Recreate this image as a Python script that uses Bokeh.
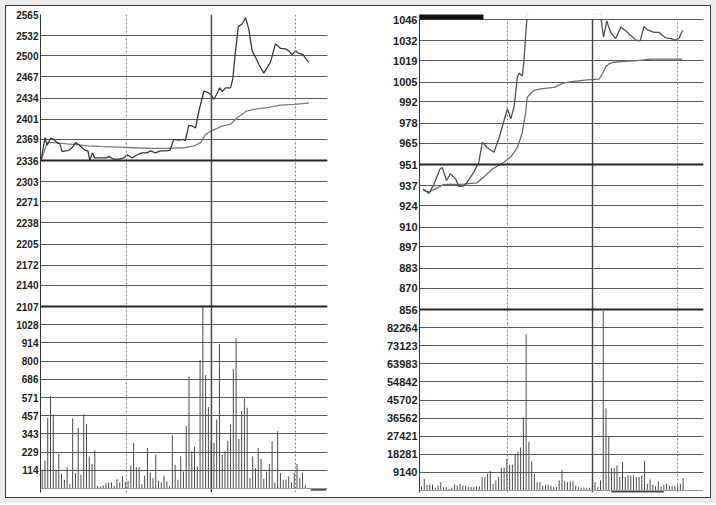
from bokeh.plotting import figure
from bokeh.models import Range1d, LinearAxis, FixedTicker, Grid, Span, BoxAnnotation
from bokeh.layouts import row, column
from bokeh.embed import file_html
from bokeh.resources import INLINE

# ---------------- data: left chart ----------------
L_PRICE_TICKS = [2107, 2140, 2172, 2205, 2238, 2271, 2303, 2336, 2369, 2401, 2434, 2467, 2500, 2532, 2565]
L_PREV_CLOSE = 2336
L_VOL_TICKS = [114, 229, 343, 457, 571, 686, 800, 914, 1028]
L_VOL_TOP = 1142.5

L_PRICE_X = [-0.4, 1.0, 1.8, 3.0, 4.2, 5.4, 6.4, 7.2, 8.4, 9.6, 10.8, 12.0, 13.2, 14.4, 15.6, 16.5, 17.2, 18.1,
             19.0, 21.1, 22.9, 24.1, 25.9, 27.7, 29.5, 30.7, 32.5, 34.3, 36.1, 37.9, 39.1, 40.9, 42.7, 44.5, 46.1,
             47.5, 49.3, 50.9, 51.7, 52.9, 54.2, 55.4, 56.6, 58.4, 59.6, 61.0, 62.0, 63.0, 64.1, 65.0, 66.2, 68.0,
             68.8, 69.8, 70.8, 72.2, 73.4, 74.6, 75.8, 77.0, 78.2, 80.0, 81.2, 82.4, 84.2, 86.0, 87.8, 89.0, 90.3,
             91.5, 92.7, 94.2, 95.4, 96.3]
L_PRICE_Y = [2336, 2372, 2360, 2371, 2369, 2364, 2362, 2350, 2351, 2352, 2356, 2364, 2361, 2356, 2352, 2351, 2336,
             2348, 2340, 2340, 2340, 2342, 2338, 2338, 2340, 2345, 2340, 2345, 2348, 2348, 2351, 2348, 2351, 2351,
             2352, 2369, 2368, 2369, 2367, 2391, 2390, 2387, 2414, 2445, 2443, 2439, 2432, 2440, 2450, 2444, 2450,
             2450, 2464, 2508, 2546, 2550, 2560, 2542, 2508, 2498, 2487, 2473, 2482, 2490, 2519, 2512, 2511, 2508,
             2502, 2508, 2504, 2502, 2494, 2490]
L_AVG_X = [-0.4, 1.8, 4.2, 9.0, 12.6, 16.2, 21.1, 27.1, 33.1, 39.1, 45.1, 51.1, 54.8, 57.2, 59.0, 61.0, 64.4,
           68.0, 70.4, 74.0, 77.6, 81.2, 86.0, 90.9, 96.3]
L_AVG_Y = [2336, 2364, 2364, 2362, 2361, 2359, 2358, 2357, 2356, 2355, 2355, 2356, 2359, 2364, 2377, 2382, 2389,
           2393, 2403, 2414, 2417, 2419, 2423, 2424, 2426]
L_VOLUME = [118, 175, 444, 581, 465, 118, 217, 93, 55, 133, 27, 440, 97, 381, 86, 465, 406, 202, 154, 238,
            15, 13, 19, 34, 38, 38, 17, 59, 38, 76, 44, 48, 143, 286, 133, 133, 27, 80, 255, 101,
            65, 213, 48, 38, 80, 44, 17, 335, 149, 55, 202, 107, 391, 703, 234, 265, 139, 806, 1140, 711,
            511, 300, 286, 433, 907, 213, 234, 297, 402, 749, 943, 311, 486, 564, 507, 65, 202, 128, 255, 185,
            61, 107, 154, 297, 38, 360, 97, 55, 55, 76, 38, 97, 154, 65, 101, 21, 2]

# ---------------- data: right chart ----------------
R_PRICE_TICKS = [856, 870, 883, 897, 910, 924, 937, 951, 965, 978, 992, 1005, 1019, 1032, 1046]
R_PREV_CLOSE = 951
R_VOL_TICKS = [9140, 18281, 27421, 36562, 45702, 54842, 63983, 73123, 82264]
R_VOL_TOP = 91404

R_PRICE_X = [0.6, 2.7, 4.5, 6.7, 7.5, 9.1, 10.5, 12.4, 13.6, 15.4, 16.6, 19.0, 20.8, 22.1, 23.9, 26.3, 28.1,
             31.2, 32.4, 33.6, 34.8, 35.4, 36.6, 37.2, 38.2, 39.5, 45, 52, 58, 64.2, 65.3, 66.1, 67.3, 68.7,
             70.5, 72.4, 74.2, 76.0, 77.8, 79.4, 80.8, 82.3, 84.5, 86.3, 87.5, 88.7, 90.5, 92.4, 93.6, 94.8]
R_PRICE_Y = [935, 932, 938, 948, 949, 940.5, 945, 941.5, 936.5, 937, 939.5, 946, 952.5, 965.5, 962, 959, 968,
             987.5, 981, 988.5, 1008, 1011, 1009, 1019, 1045, 1058, 1065, 1070, 1062, 1055, 1045, 1034.5, 1045,
             1037.5, 1033.5, 1041, 1038.5, 1035.5, 1032.5, 1032, 1041.5, 1039, 1037.5, 1037.5, 1035.5, 1034,
             1033.5, 1032.5, 1034, 1039]
R_AVG_X = [0.6, 2.7, 5.1, 8.1, 14.2, 20.2, 23.3, 25.7, 28.1, 29.9, 32.4, 34.8, 36.6, 37.2, 37.8, 38.4, 39.6,
           40.8, 43.3, 45.7, 48.1, 49.9, 51.8, 55.4, 60.2, 64.5, 65.7, 66.9, 68.1, 69.9, 73.6, 78.4, 83.3, 86.9, 94.8]
R_AVG_Y = [934, 933, 935, 938, 938, 939, 944, 948, 950.5, 952.5, 956, 962, 972, 978.5, 985, 995, 997.5, 999.5,
           1000.5, 1001, 1001.5, 1003, 1004.5, 1005.5, 1006.5, 1007, 1010.5, 1015, 1017, 1018, 1018.5, 1019,
           1020, 1020, 1020]
R_VOLUME = [2200, 5900, 2900, 3000, 3000, 1400, 2500, 4200, 1700, 1700, 850, 1400, 3000, 2500, 3400, 2500,
            2500, 1700, 1700, 1700, 2000, 2200, 6800, 6800, 8500, 9800, 3400, 5100, 6800, 11500, 11500, 16100,
            13000, 13000, 18600, 19500, 21700, 36900, 78700, 24500, 14700, 8500, 4200, 4200, 2500, 2900, 2900,
            2500, 1700, 1700, 5100, 10200, 4600, 4200, 4600, 4600, 2500, 1700, 1400, 1400, 1400, 1400, 1000,
            4200, 1700, 5100, 90600, 41500, 27400, 11300, 11300, 12700, 6800, 14400, 6800, 7600, 7600, 7600,
            6800, 6800, 7600, 14900, 3400, 5600, 2900, 2200, 4600, 2000, 2900, 3400, 2500, 2200, 2200, 2900,
            3400, 6300]

FIG_H = 491


def make_panel(width, mbl, mbr, x_start, x_end, pads, price_ticks, prev_close, vol_ticks, vol_top,
               px, py, ax, ay, volumes, vlines, font_size, price_color, avg_color, marks, mask_top):
    # pads: pixel heights of (top padding, price area, volume area, bottom padding) inside the frame
    top_pad, price_px, vol_px, bot_pad = pads
    pmin, pmax = price_ticks[0], price_ticks[-1]
    u = (pmax - pmin) / price_px
    y_end = pmax + top_pad * u
    y_start = pmin - (vol_px + bot_pad) * u
    vu = vol_top / vol_px
    v_start = -bot_pad * vu
    v_end = vol_top + (price_px + top_pad) * vu

    p = figure(width=width, height=FIG_H, x_range=Range1d(x_start, x_end), y_range=Range1d(y_start, y_end),
               x_axis_type=None, y_axis_type=None, toolbar_location=None, output_backend="svg",
               min_border_left=mbl, min_border_right=mbr, min_border_top=8, min_border_bottom=5)
    p.extra_y_ranges = {"vol": Range1d(v_start, v_end)}
    p.outline_line_color = None
    p.background_fill_color = "white"
    p.border_fill_color = "white"

    def to_main(v):
        return round(y_start + (v - v_start) / (v_end - v_start) * (y_end - y_start), 4)

    ticks = [float(t) for t in price_ticks] + [to_main(v) for v in vol_ticks]
    labels = [str(t) for t in price_ticks] + [str(v) for v in vol_ticks]
    ticker = FixedTicker(ticks=ticks)

    p.add_layout(Grid(dimension=1, ticker=ticker, grid_line_color="#5a5a5a", grid_line_width=1))

    axis = LinearAxis(ticker=ticker, major_label_overrides=dict(zip(ticks, labels)),
                      major_tick_line_color=None, minor_tick_line_color=None,
                      major_tick_out=0, major_tick_in=0, major_label_standoff=2,
                      axis_line_color="#333333", axis_line_width=1,
                      major_label_text_font="Liberation Sans", major_label_text_font_style="bold",
                      major_label_text_font_size=font_size, major_label_text_color="#1e1e1e")
    p.add_layout(axis, "left")

    for i, v in enumerate(vlines):
        if i == 1:
            p.add_layout(Span(location=v, dimension="height", line_color="#4a4a4a", line_width=1.5))
        else:
            p.add_layout(Span(location=v, dimension="height", line_color="#7a7a7a", line_width=1,
                              line_dash="2 2"))

    p.add_layout(Span(location=prev_close, dimension="width", line_color="#262626", line_width=2))
    p.add_layout(Span(location=pmin, dimension="width", line_color="#262626", line_width=2))
    p.add_layout(Span(location=0, dimension="width", y_range_name="vol", line_color="#9a9a9a", line_width=1))

    idx = list(range(len(volumes)))
    p.segment(x0=idx, y0=[0] * len(volumes), x1=idx, y1=volumes, y_range_name="vol",
              line_color="#4a4a4a", line_width=1)

    p.line(ax, ay, line_color=avg_color, line_width=1.3)
    p.line(px, py, line_color=price_color, line_width=1.3)

    if mask_top:
        # everything above the top price line is blank, as in the original
        p.add_layout(BoxAnnotation(bottom=pmax + 0.45 * u, fill_color="white", fill_alpha=1, line_color=None))

    for (l, r, b, t, rng) in marks:
        kw = dict(left=l, right=r, bottom=b, top=t, fill_color="#111111", fill_alpha=1, line_color=None)
        if rng:
            kw["y_range_name"] = rng
        p.add_layout(BoxAnnotation(**kw))
    return p


left = make_panel(350, 34, 29, -0.61, 103.0, (0, 292, 182, 4), L_PRICE_TICKS, L_PREV_CLOSE, L_VOL_TICKS,
                  L_VOL_TOP, L_PRICE_X, L_PRICE_Y, L_AVG_X, L_AVG_Y, L_VOLUME, [30.4, 61.1, 91.4], "10px",
                  "#3a3a3a", "#7d7d7d", [(96.9, 102.6, -13, -4, "vol")], False)
right = make_panel(354, 63, 7, -0.73, 102.4, (5, 290, 181, 2), R_PRICE_TICKS, R_PREV_CLOSE, R_VOL_TICKS,
                   R_VOL_TOP, R_PRICE_X, R_PRICE_Y, R_AVG_X, R_AVG_Y, R_VOLUME, [31.2, 62.1, 93.0], "11px",
                   "#505050", "#6e6e6e",
                   [(-0.73, 22.5, 1046, 1049.7, None), (68.9, 88.0, -1160, -350, "vol")], True)

inner = row(left, right, styles={"border": "1px solid #3a3a3a", "background-color": "white"})
page = column(inner, styles={"padding": "5px", "background-color": "#ececec"})

open("out.html", "w").write(file_html(page, INLINE))
